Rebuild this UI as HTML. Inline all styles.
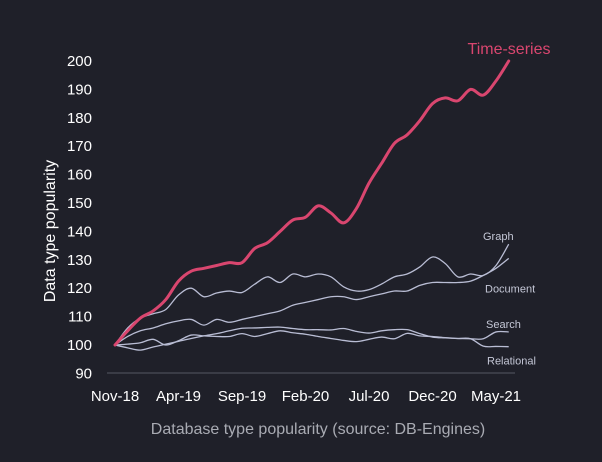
<!DOCTYPE html>
<html><head><meta charset="utf-8">
<style>
html,body{margin:0;padding:0;background:#1f2029;}
svg{display:block;font-family:"Liberation Sans",sans-serif;}
</style></head>
<body>
<svg id="chart" width="602" height="462" viewBox="0 0 602 462" xmlns="http://www.w3.org/2000/svg">
<rect width="602" height="462" fill="#1f2029"/>
<g id="yaxis"></g>
<g id="xaxis"></g>
<g id="lines"></g>
<g id="labels"></g>
<text x="0" y="0" transform="translate(55,231) rotate(-90)" text-anchor="middle" fill="#ffffff" font-size="16">Data type popularity</text>
<text x="318" y="434" text-anchor="middle" fill="#a9abb3" font-size="16">Database type popularity (source: DB-Engines)</text>
</svg>
<script>
const yTicks = [90,100,110,120,130,140,150,160,170,180,190,200];
const xTickLabels = ["Nov-18","Apr-19","Sep-19","Feb-20","Jul-20","Dec-20","May-21"];
const xTickIndex = [0,5,10,15,20,25,30];
const timeSeries = [100,105,109.5,112,116,122.5,126,127,128,129,129,134,136,140,144,145,149,146.5,143,148,157,164,171,174,179,185,187,186,190,188,193,200];
const graphSeries = [100,106,109.5,111,112.5,117.6,120,117,118.3,119,118.5,121.4,124,122,125,124,125,124,120.5,119,119.5,121.5,124,125,127.5,131,128.7,124,125,124.5,128,135.5];
const documentSeries = [100,103,105,106,107.5,108.5,109,107,109,108,109,110,111,112,114,115,116,117,117,116,117,118,119,119,121,122,122,122,122.5,124.5,127,130.5];
const searchSeries = [100,99,98.2,99.3,100.3,101.3,102.3,103.2,104,105,105.9,106,106.2,106.3,105.8,105.4,105.4,105.3,105.8,104.8,104.2,105,105.4,105.4,104,102.8,102.5,102.3,102.2,102.2,104.6,104.6];
const relationalSeries = [100,100.3,100.8,102,100,101.5,103.5,103.2,103,103,104,103,104,105,104.3,103.8,103,102.3,101.6,101.2,102,102.8,102.2,104.1,103.2,103,102.6,102.3,102.2,99.6,99.5,99.4];

const NS = "http://www.w3.org/2000/svg";
function xs(i){ return 115 + i*12.7; }
function ys(v){ return 345 - (v-100)*2.84; }
function mk(tag, attrs, parent){
  const e = document.createElementNS(NS, tag);
  for (const k in attrs) e.setAttribute(k, attrs[k]);
  parent.appendChild(e); return e;
}
const yg = document.getElementById('yaxis');
yTicks.forEach(t=>{
  const e = mk('text',{x:92,y:ys(t)+5,'text-anchor':'end',fill:'#ffffff','font-size':15},yg);
  
  
  e.textContent = t;
});
const xg = document.getElementById('xaxis');
const ax = mk('line',{x1:107,x2:515,y1:373,y2:373,stroke:'#555864','stroke-width':1},xg);


xTickLabels.forEach((l,k)=>{
  const e = mk('text',{x:xs(xTickIndex[k]),y:401,'text-anchor':'middle',fill:'#ffffff','font-size':15},xg);
  
  
  e.textContent = l;
});
function smoothPath(arr){
  const p = arr.map((v,i)=>[xs(i),ys(v)]);
  let d = 'M'+p[0][0]+','+p[0][1];
  for(let i=0;i<p.length-1;i++){
    const p0=p[i-1]||p[i], p1=p[i], p2=p[i+1], p3=p[i+2]||p2;
    const c1=[p1[0]+(p2[0]-p0[0])/6, p1[1]+(p2[1]-p0[1])/6];
    const c2=[p2[0]-(p3[0]-p1[0])/6, p2[1]-(p3[1]-p1[1])/6];
    d += ' C'+c1[0]+','+c1[1]+' '+c2[0]+','+c2[1]+' '+p2[0]+','+p2[1];
  }
  return d;
}
const lg = document.getElementById('lines');
const grey = '#b9bdd4';
[[relationalSeries,'relational-line'],[searchSeries,'search-line'],[documentSeries,'document-line'],[graphSeries,'graph-line']].forEach(s=>{
  const e = mk('path',{d:smoothPath(s[0]),fill:'none',stroke:grey,'stroke-width':1.3},lg);
  
  
});
const ts = mk('path',{d:smoothPath(timeSeries),fill:'none',stroke:'#d9466f','stroke-width':3,'stroke-linecap':'round'},lg);



const lab = document.getElementById('labels');
const last = timeSeries.length-1;
const tl = mk('text',{x:509,y:ys(timeSeries[last])-7,'text-anchor':'middle',fill:'#d9466f','font-size':16},lab);


tl.textContent='Time-series';
[['Graph',graphSeries[last],-4,483,'graph-label'],['Document',documentSeries[last],34,485,'document-label'],['Search',searchSeries[last],-4,486,'search-label'],['Relational',relationalSeries[last],18,487,'relational-label']].forEach(s=>{
  const e = mk('text',{x:s[3],y:ys(s[1])+s[2],fill:'#c4c7d6','font-size':11},lab);
  
  
  e.textContent=s[0];
});
</script>
</body></html>
